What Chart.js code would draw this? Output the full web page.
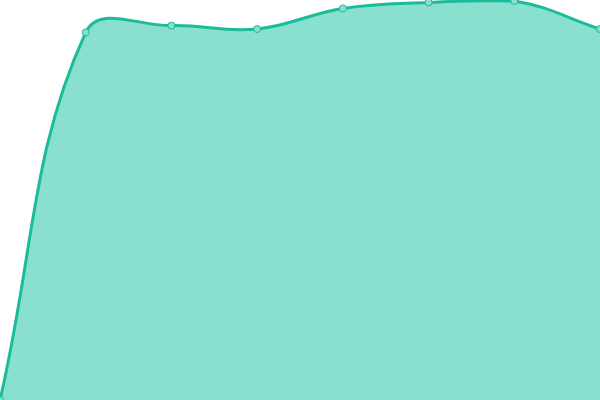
<!DOCTYPE html>
<html>
<head>
<meta charset="utf-8">
<script src="https://cdn.jsdelivr.net/npm/chart.js@4"></script>
<style>
  html, body { margin: 0; padding: 0; background: #fff; }
  #wrap { width: 600px; height: 400px; }
</style>
</head>
<body>
<div id="wrap"><canvas id="grafica"></canvas></div>
<script>
// datos del grafico
var etiquetas = ['1', '2', '3', '4', '5', '6', '7', '8'];
var valores = [0, 91.9, 93.6, 92.75, 97.9, 99.4, 99.75, 92.75];

var ctx = document.getElementById('grafica').getContext('2d');
var miGrafica = new Chart(ctx, {
  type: 'line',
  data: {
    labels: etiquetas,
    datasets: [{
      data: valores,
      fill: 'origin',
      backgroundColor: 'rgb(137, 224, 207)',
      borderColor: '#1abc9c',
      borderWidth: 3,
      tension: 0.4,
      pointRadius: 3.5,
      pointBackgroundColor: 'rgb(137, 224, 207)',
      pointBorderColor: '#1abc9c',
      pointBorderWidth: 1
    }]
  },
  options: {
    responsive: true,
    maintainAspectRatio: false,
    animation: false,
    layout: { padding: 0, autoPadding: false },
    plugins: {
      legend: { display: false },
      tooltip: { enabled: false }
    },
    scales: {
      x: { display: false },
      y: { display: false, min: 0, max: 100 }
    }
  }
});
</script>
</body>
</html>
